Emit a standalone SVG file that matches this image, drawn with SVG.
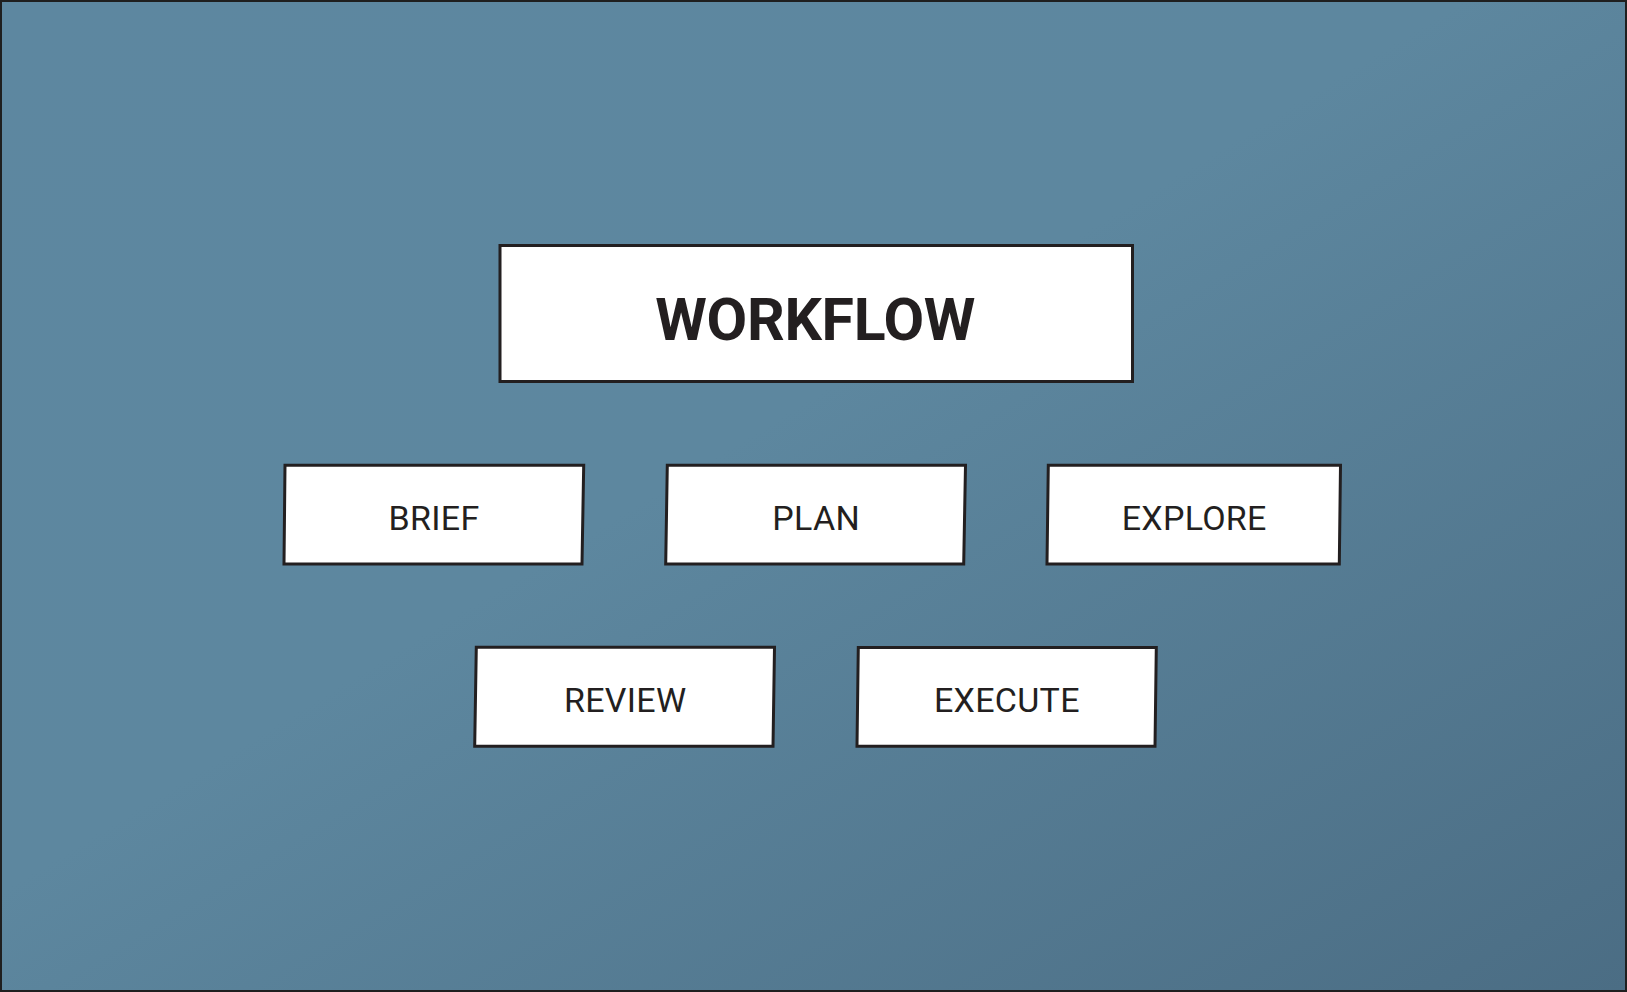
<svg xmlns="http://www.w3.org/2000/svg" width="1627" height="992" viewBox="0 0 1627 992">
<defs>
<linearGradient id="bg" x1="0" y1="0" x2="1" y2="1">
<stop offset="0" stop-color="#5d87a0"/>
<stop offset="0.45" stop-color="#5d879f"/>
<stop offset="1" stop-color="#4b6d84"/>
</linearGradient>
<style>
.box{fill:#ffffff;stroke:#231f20;stroke-width:3;stroke-linejoin:miter}
.lbl{font-family:Roboto,"Liberation Sans",sans-serif;font-size:34px;fill:#231f20;text-anchor:middle;letter-spacing:0.3px}
.ttl{font-family:Roboto,"Liberation Sans",sans-serif;font-size:59px;font-weight:bold;fill:#231f20;text-anchor:middle;letter-spacing:-0.3px}
</style>
</defs>
<rect x="1" y="1" width="1625" height="990" fill="url(#bg)" stroke="#1f1f1f" stroke-width="2"/>
<g id="connectors"></g>
<g id="workflow">
<rect class="box" x="500" y="245.5" width="632.5" height="136"/>
<text class="ttl" x="815.2" y="340">WORKFLOW</text>
</g>
<g id="brief">
<polygon class="box" points="285,465.3 583.7,465.3 582,564 284,564"/>
<text class="lbl" x="434" y="530">BRIEF</text>
</g>
<g id="plan">
<polygon class="box" points="667.3,465.3 965.5,465.3 963.7,564 665.7,564"/>
<text class="lbl" x="816.2" y="530">PLAN</text>
</g>
<g id="explore">
<polygon class="box" points="1048.3,465.3 1340.5,465.3 1339.3,564 1047,564"/>
<text class="lbl" x="1194.2" y="530">EXPLORE</text>
</g>
<g id="review">
<polygon class="box" points="476.3,647.3 774.5,647.3 773,746.3 474.7,746.3"/>
<text class="lbl" x="625.2" y="711.5">REVIEW</text>
</g>
<g id="execute">
<polygon class="box" points="858.3,647.5 1156.3,647.5 1155,746.3 857,746.3"/>
<text class="lbl" x="1006.9" y="711.5">EXECUTE</text>
</g>
</svg>
